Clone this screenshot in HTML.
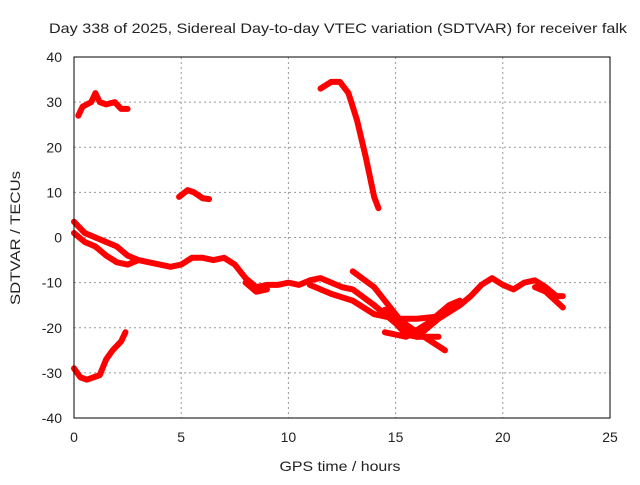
<!DOCTYPE html>
<html><head><meta charset="utf-8"><style>
body{margin:0;background:#fff}
svg text{font-family:"Liberation Sans",sans-serif;font-size:14px;fill:#222}
</style></head><body>
<svg id="chart" width="640" height="480">
<text x="338" y="33" text-anchor="middle" textLength="578" lengthAdjust="spacingAndGlyphs">Day 338 of 2025, Sidereal Day-to-day VTEC variation (SDTVAR) for receiver falk</text>
<text x="340" y="471" text-anchor="middle" textLength="121" lengthAdjust="spacingAndGlyphs">GPS time / hours</text>
<text transform="translate(20,238) rotate(-90)" text-anchor="middle" textLength="134" lengthAdjust="spacingAndGlyphs">SDTVAR / TECUs</text>
<g id="grid"></g><g id="series"></g>
<rect x="74" y="57" width="536" height="361" fill="none" stroke="#000" stroke-width="1"/>
</svg>
<script>
const xTicks=[0,5,10,15,20,25];
const yTicks=[40,30,20,10,0,-10,-20,-30,-40];
const tracks=[
[[0.2,27],[0.4,29],[0.8,30],[1.0,32],[1.2,30],[1.5,29.5],[1.9,30],[2.2,28.5],[2.5,28.5]],
[[4.9,9],[5.3,10.5],[5.6,10],[6,8.7],[6.3,8.5]],
[[11.5,33],[12,34.5],[12.4,34.5],[12.8,32],[13.2,26],[13.6,18],[14,9],[14.2,6.5]],
[[0,-29],[0.3,-31],[0.6,-31.5],[1.2,-30.5],[1.5,-27],[1.8,-25],[2.2,-23],[2.4,-21]],
[[0,3.5],[0.5,1],[1,0],[1.5,-1],[2,-2],[2.5,-4],[3,-5],[3.5,-5.5],[4,-6],[4.5,-6.5],[5,-6],[5.5,-4.5],[6,-4.5],[6.5,-5],[7,-4.5],[7.5,-6],[8,-9],[8.5,-11],[9,-10.5],[9.5,-10.5],[10,-10],[10.5,-10.5],[11,-9.5],[11.5,-9],[12,-10],[12.5,-11],[13,-11.5],[14,-15],[14.5,-17],[15,-19],[15.5,-21.5],[16,-22],[16.5,-20],[17,-18],[17.5,-16.5],[18,-15],[18.5,-13],[19,-10.5],[19.5,-9],[20,-10.5],[20.5,-11.5],[21,-10],[21.5,-9.5],[22,-11],[22.5,-13],[22.8,-13]],
[[0,1],[0.5,-1],[1,-2],[1.5,-4],[2,-5.5],[2.5,-6],[3,-5]],
[[8,-10],[8.5,-12],[9,-11.5]],
[[11,-10.5],[12,-12.5],[13,-14],[14,-17],[15,-18],[16,-18],[17,-17.5]],
[[13,-7.5],[14,-11],[15,-17],[15.5,-20],[16,-22],[17,-22]],
[[14.5,-21],[15.5,-22],[16.5,-19],[17.5,-15],[18,-14]],
[[14.5,-16],[16,-21],[17.3,-25]],
[[21.5,-11],[22,-12],[22.8,-15.5]]
];
const X=h=>74+h*536/25, Y=v=>237.5-v*361/80;
const NS="http://www.w3.org/2000/svg";
const svg=document.getElementById('chart'),grid=document.getElementById('grid'),ser=document.getElementById('series');
function mk(tag,attrs,parent){const e=document.createElementNS(NS,tag);for(const k in attrs)e.setAttribute(k,attrs[k]);parent.appendChild(e);return e;}
xTicks.forEach(t=>{
 if(t>0&&t<25){const l=mk('line',{x1:X(t),x2:X(t),y1:57,y2:418,stroke:'#999','stroke-dasharray':'2,3'},grid);
 
 }
 const tx=mk('text',{x:X(t),y:442,'text-anchor':'middle'},svg);tx.textContent=t;
 
 
});
yTicks.forEach(t=>{
 if(t>-40&&t<40){const l=mk('line',{x1:74,x2:610,y1:Y(t),y2:Y(t),stroke:'#999','stroke-dasharray':'2,3'},grid);
 
 }
 const tx=mk('text',{x:62,y:Y(t)+5,'text-anchor':'end'},svg);tx.textContent=t;
 
 
});
tracks.forEach(tr=>{
 const p=mk('polyline',{points:tr.map(d=>X(d[0])+','+Y(d[1])).join(' '),fill:'none',stroke:'#f00','stroke-width':6,'stroke-linejoin':'round','stroke-linecap':'round'},ser);
 
 
});
</script>
</body></html>
